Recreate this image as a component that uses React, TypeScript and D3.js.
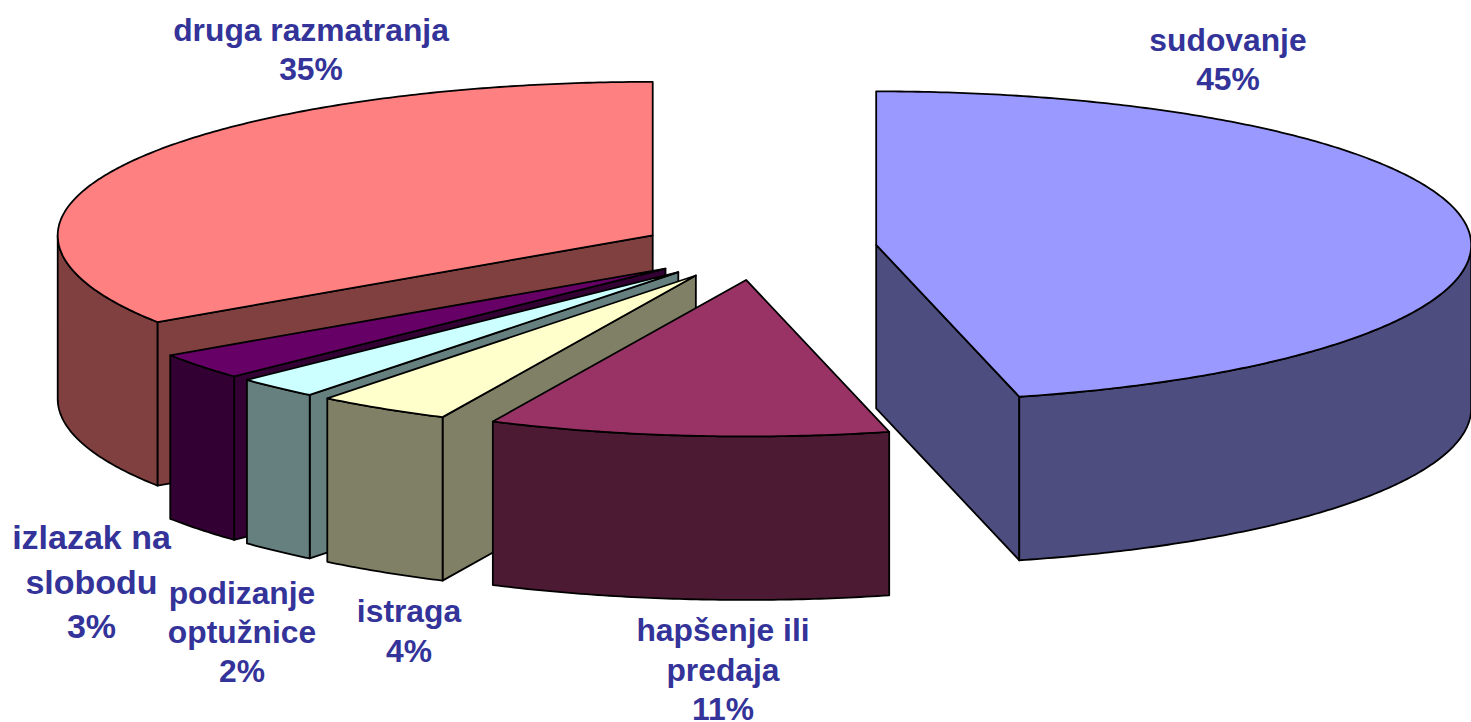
import React from 'react';
import * as d3 from 'd3';

const categories = ['sudovanje', 'hapšenje ili predaja', 'istraga', 'podizanje optužnice', 'izlazak na slobodu', 'druga razmatranja'];
// unrounded shares, the labels show them rounded
const shares = [45.1, 10.9, 3.8, 2.4, 2.9, 34.9];
const topColors = ['#9999FF', '#993366', '#FFFFCC', '#CCFFFF', '#660066', '#FF8080'];
const sideColors = ['#4D4D80', '#4D1A33', '#808066', '#668080', '#330033', '#804040'];
const labelLines = [
  ['sudovanje', '45%'],
  ['hapšenje ili', 'predaja', '11%'],
  ['istraga', '4%'],
  ['podizanje', 'optužnice', '2%'],
  ['izlazak na', 'slobodu', '3%'],
  ['druga razmatranja', '35%'],
];

// back to front
const drawOrder = [5, 4, 3, 2, 1, 0];

// label anchors, first baseline
const labelX = [1228, 723, 409, 242, 91.5, 311];
const labelY = [51, 641, 622, 604, 549, 41];
const labelStep = [39, 39.5, 39.5, 39, 44.5, 39];
const labelSize = [31.8, 31.8, 31.8, 31.8, 34, 31.8];

const width = 1471;
const height = 722;
const depth = 163.5;
const explode = 119;
const tilt = 0.258;
const center = { x: 758.5, y: 249.4 };

const rx = d3.scaleLinear().domain([-1, 1]).range([-595, 595]);
// the near half of the rim comes out slightly deeper than the far half
const ry = d3.scaleLinear().domain([-1, 0, 1]).range([-153.5, 0, 156.5]);

// the 3D view pushes the front of the pie a few degrees round
const warp = (a: number) => a + (4 * Math.PI / 180) * Math.pow((1 - Math.cos(a)) / 2, 3);

const line = d3.line();

function App() {
  const arcs = d3.pie<number>().sort(null).startAngle(0).endAngle(2 * Math.PI)(shares);

  const slices = drawOrder.map((i) => {
    const arc = arcs[i];
    const mid = warp((arc.startAngle + arc.endAngle) / 2);
    const ox = center.x + explode * Math.sin(mid);
    const oy = center.y - explode * tilt * Math.cos(mid);
    const a0 = warp(arc.startAngle);
    const a1 = warp(arc.endAngle);
    const rim = (a: number, drop = 0): [number, number] => [ox + rx(Math.sin(a)), oy + ry(-Math.cos(a)) + drop];
    const sweep = (from: number, to: number) => {
      const n = Math.max(2, Math.ceil((to - from) / 0.01));
      return d3.range(n + 1).map((k) => from + ((to - from) * k) / n);
    };
    const apex: [number, number] = [ox, oy];
    const apexLow: [number, number] = [ox, oy + depth];

    const top = [apex, ...sweep(a0, a1).map((a) => rim(a))];
    const faces: [number, number][][] = [];
    if (Math.sin(a0) < -1e-6) faces.push([apex, rim(a0), rim(a0, depth), apexLow]);
    if (Math.sin(a1) > 1e-6) faces.push([apex, rim(a1), rim(a1, depth), apexLow]);

    // outer wall only where the rim faces us
    const w0 = Math.max(a0, Math.PI / 2);
    const w1 = Math.min(a1, (3 * Math.PI) / 2);
    if (w1 > w0) {
      const s = sweep(w0, w1);
      faces.push([...s.map((a) => rim(a)), ...s.slice().reverse().map((a) => rim(a, depth))]);
    }
    return { i, top, faces };
  });

  return (
    <svg
      width={width}
      height={height}
      viewBox={`0 0 ${width} ${height}`}
      style={{ position: 'absolute', left: 0, top: 0, background: '#fff' }}
    >
      {slices.map((s) => (
        <g key={categories[s.i]} stroke="#000" strokeWidth={1.8} strokeLinejoin="round">
          {s.faces.map((f, k) => (
            <path key={k} d={line(f) + 'Z'} fill={sideColors[s.i]} />
          ))}
          <path d={line(s.top) + 'Z'} fill={topColors[s.i]} />
        </g>
      ))}
      {labelLines.map((lines, i) => (
        <text
          key={categories[i]}
          textAnchor="middle"
          fontFamily="'Liberation Sans', Arial, sans-serif"
          fontWeight="bold"
          fontSize={labelSize[i]}
          fill="#333399"
        >
          {lines.map((t, k) => (
            <tspan key={k} x={labelX[i]} y={labelY[i] + k * labelStep[i]}>
              {t}
            </tspan>
          ))}
        </text>
      ))}
    </svg>
  );
}

export default App;
